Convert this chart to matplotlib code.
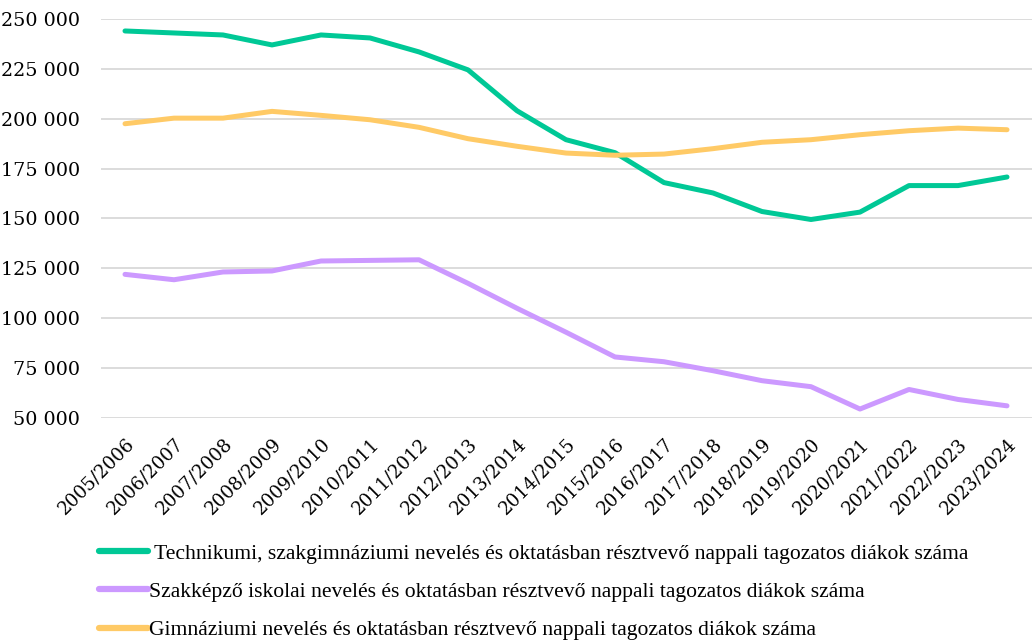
import matplotlib
matplotlib.use("Agg")
import matplotlib.pyplot as plt
from matplotlib.ticker import FuncFormatter, MultipleLocator

# ---------------------------------------------------------------------------
# Data
# ---------------------------------------------------------------------------

school_years = [
    "2005/2006", "2006/2007", "2007/2008", "2008/2009", "2009/2010",
    "2010/2011", "2011/2012", "2012/2013", "2013/2014", "2014/2015",
    "2015/2016", "2016/2017", "2017/2018", "2018/2019", "2019/2020",
    "2020/2021", "2021/2022", "2022/2023", "2023/2024",
]

technikum = [
    244000, 243000, 242000, 237000, 242000, 240500, 233500, 224500, 204000,
    189500, 183000, 168000, 162800, 153500, 149500, 153200, 166500, 166500,
    170800,
]

szakkepzo = [
    122000, 119300, 123200, 123700, 128700, 129000, 129300, 117500, 105000,
    93000, 80600, 78200, 73700, 68700, 65700, 54500, 64300, 59300, 56100,
]

gimnazium = [
    197500, 200300, 200300, 203700, 201700, 199500, 195700, 190000, 186200,
    182800, 181700, 182300, 185000, 188200, 189500, 192000, 194000, 195300,
    194500,
]

labels = [
    " Technikumi, szakgimnáziumi nevelés és oktatásban résztvevő nappali tagozatos diákok száma",
    "Szakképző iskolai nevelés és oktatásban résztvevő nappali tagozatos diákok száma",
    "Gimnáziumi nevelés és oktatásban résztvevő nappali tagozatos diákok száma",
]

colors = ["#00C896", "#CC99FF", "#FFCA66"]


def thousands(v, pos):
    return f"{int(v):,}".replace(",", " ")


fig = plt.figure(figsize=(10.35, 6.42), dpi=100)
ax = fig.add_axes([100.5 / 1035, 1 - 418 / 642, 931 / 1035, 399 / 642])

x = range(len(school_years))
for series, color, label in zip([technikum, szakkepzo, gimnazium], colors, labels):
    ax.plot(x, series, color=color, lw=3.6, label=label,
            solid_capstyle="round", solid_joinstyle="round")

ax.set_xlim(-0.5, len(school_years) - 0.5)
ax.set_ylim(50000, 250000)
ax.yaxis.set_major_locator(MultipleLocator(25000))
ax.yaxis.set_major_formatter(FuncFormatter(thousands))
ax.grid(axis="y", color="#D9D9D9", lw=1.3)
ax.set_axisbelow(True)
for s in ax.spines.values():
    s.set_visible(False)

ax.set_xticks(list(x))
ax.set_xticklabels(school_years, rotation=45, ha="right",
                   rotation_mode="anchor", family="DejaVu Serif", fontsize=13.2)
ax.tick_params(axis="x", length=0, pad=12)
ax.tick_params(axis="y", length=0, pad=15, labelsize=13.8)
for t in ax.get_yticklabels():
    t.set_family("DejaVu Serif")

leg = fig.legend(loc="upper left", bbox_to_anchor=(79 / 1035, 1 - 524 / 642),
                 frameon=False, handlelength=2.3, handletextpad=0.05,
                 labelspacing=0.84,
                 prop={"family": "Liberation Serif", "size": 15.6})
for line in leg.get_lines():
    line.set_linewidth(4.5)

fig.savefig("out.png", dpi=100)
